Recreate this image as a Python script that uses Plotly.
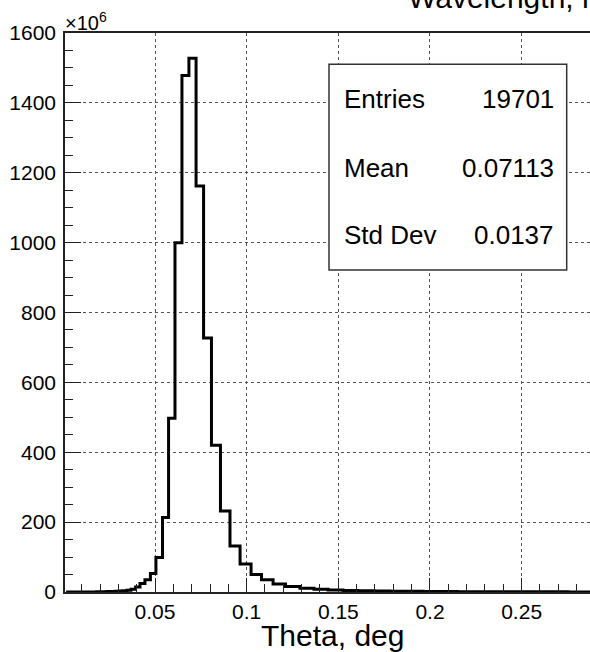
import plotly.graph_objects as go

# Bin edges of the theta histogram (deg) and weighted contents per bin (x10^6)
theta_edges = [
    0.0015, 0.0031, 0.0047, 0.0064, 0.0080, 0.0096, 0.0113, 0.0129, 0.0145, 0.0162,
    0.0181, 0.0200, 0.0219, 0.0238, 0.0260, 0.0282, 0.0304, 0.0325, 0.0347, 0.0369,
    0.0394, 0.0418, 0.0445, 0.0475, 0.0505, 0.0541, 0.0574, 0.0609, 0.0647, 0.0685,
    0.0724, 0.0765, 0.0808, 0.0857, 0.0909, 0.0964, 0.1024, 0.1081, 0.1144, 0.1212,
    0.1291, 0.1367, 0.1444, 0.1526, 0.1607, 0.1695, 0.1782, 0.1869, 0.1962, 0.2055,
    0.2148, 0.2246, 0.2344, 0.2442, 0.2546, 0.2649, 0.2753, 0.2862, 0.2971,
]
bin_contents = [
    0.01, 0.02, 0.03, 0.05, 0.08, 0.1, 0.15, 0.2, 0.25, 0.35,
    0.45, 0.6, 0.8, 1.1, 1.5, 2.0, 2.8, 3.8, 5.2,
    8, 14, 24, 35, 53,
    99, 213, 497, 1000, 1478, 1528, 1162, 727, 420, 232,
    132, 80, 50, 35, 23, 16, 11, 8, 6, 4.5,
    3.5, 2.8, 2.2, 1.8, 1.4, 1.2, 1.0, 0.85, 0.7, 0.6,
    0.5, 0.42, 0.35, 0.3,
]

stat_names = ["Entries", "Mean", "Std Dev"]
stat_values = ["19701", "0.07113", "0.0137"]

hist_title = "Wavelength, nm"
x_title = "Theta, deg"
y_exponent = "×10<sup>6</sup>"

FONT = "Liberation Sans, Arial, Helvetica, sans-serif"

W, H = 590, 652
ML, MR, MT, MB = 65, 0, 33, 60
plot_w = W - ML - MR
plot_h = H - MT - MB


def px_x(px):
    return (px - ML) / plot_w


def px_y(py):
    return (H - MB - py) / plot_h


fig = go.Figure()
fig.add_trace(go.Scatter(
    x=theta_edges,
    y=bin_contents + [bin_contents[-1]],
    mode="lines",
    line=dict(color="black", width=3, shape="hv"),
    hoverinfo="skip",
    showlegend=False,
))

grid = dict(showgrid=True, gridcolor="#555555", gridwidth=1, griddash="dot")

fig.update_xaxes(
    range=[0.0009, 0.2873],
    tick0=0, dtick=0.05,
    ticks="inside", ticklen=14, tickwidth=1, tickcolor="#222",
    minor=dict(ticks="inside", ticklen=8, dtick=0.01, tick0=0, tickcolor="#222", showgrid=False),
    showline=True, linecolor="#222", linewidth=1.5, mirror=True,
    zeroline=False,
    tickfont=dict(family=FONT, size=21, color="black"),
    ticklabelstandoff=0,
    **grid,
)
fig.update_yaxes(
    range=[0, 1600],
    tick0=0, dtick=200,
    ticks="inside", ticklen=16, tickwidth=1, tickcolor="#222",
    minor=dict(ticks="inside", ticklen=8, dtick=50, tick0=0, tickcolor="#222", showgrid=False),
    showline=True, linecolor="#222", linewidth=1.5,
    zeroline=False,
    tickfont=dict(family=FONT, size=21, color="black"),
    ticklabelstandoff=3,
    **grid,
)

# statistics box
box_l, box_r, box_t, box_b = 329, 566.7, 64.3, 270
fig.add_shape(
    type="rect", xref="paper", yref="paper",
    x0=px_x(box_l), x1=px_x(box_r), y0=px_y(box_b), y1=px_y(box_t),
    fillcolor="white", line=dict(color="#333", width=1.5), layer="above",
)
row_y = [99.3, 168.3, 235]
for name, val, ry in zip(stat_names, stat_values, row_y):
    fig.add_annotation(
        text=name, xref="paper", yref="paper", x=px_x(341.5), y=px_y(ry),
        xanchor="left", yanchor="middle", showarrow=False,
        font=dict(family=FONT, size=26, color="black"),
    )
    fig.add_annotation(
        text=val, xref="paper", yref="paper", x=px_x(555.5), y=px_y(ry),
        xanchor="right", yanchor="middle", showarrow=False,
        font=dict(family=FONT, size=26, color="black"),
    )

# axis exponent, axis title, histogram title
fig.add_annotation(
    text=y_exponent, xref="paper", yref="paper", x=px_x(63), y=px_y(22),
    xanchor="left", yanchor="middle", showarrow=False,
    font=dict(family=FONT, size=20, color="black"),
)
fig.add_annotation(
    text=x_title, xref="paper", yref="paper", x=px_x(332), y=px_y(635),
    xanchor="center", yanchor="middle", showarrow=False,
    font=dict(family=FONT, size=30, color="black"),
)
fig.add_annotation(
    text=hist_title, xref="paper", yref="paper", x=px_x(406), y=px_y(-2),
    xanchor="left", yanchor="middle", showarrow=False,
    font=dict(family=FONT, size=30, color="black"),
)

fig.update_layout(
    width=W, height=H,
    margin=dict(l=ML, r=MR, t=MT, b=MB, pad=0),
    paper_bgcolor="white", plot_bgcolor="white",
    showlegend=False,
)

fig.write_html("out.html")
